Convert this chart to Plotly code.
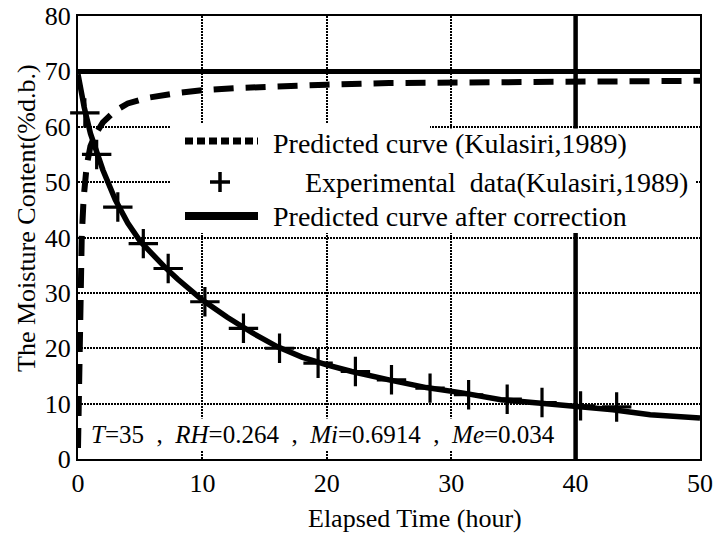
import plotly.graph_objects as go

SERIF = "Liberation Serif, Times New Roman, serif"

# Predicted curve of the original model (Kulasiri, 1989)
t_kulasiri = [0, 0.05, 0.1, 0.15, 0.2, 0.3, 0.45, 0.7, 1.0, 1.4, 2, 3, 4, 5.5,
              8, 10, 13, 16, 20, 25, 30, 35, 40, 45, 50]
m_kulasiri = [2, 10, 18, 26, 32, 40, 47, 53, 56.5, 58.6, 60.8, 62.9, 64.2, 65.2,
              66.1, 66.6, 67.0, 67.3, 67.6, 67.9, 68.0, 68.1, 68.2, 68.2, 68.3]

# Experimental drying data (Kulasiri, 1989)
t_exp = [0.55, 1.5, 3.2, 5.25, 7.25, 10.2, 13.3, 16.2, 19.3, 22.3, 25.2, 28.3,
         31.4, 34.5, 37.3, 40.4, 43.3]
m_exp = [62.5, 55.0, 45.5, 38.9, 34.4, 28.4, 23.6, 20.0, 17.3, 15.8, 14.3, 12.8,
         11.6, 10.8, 10.2, 9.6, 9.4]

# Predicted curve after correction
t_fit = [0, 0.25, 0.5, 1, 1.5, 2, 3, 4, 5, 6, 7, 8, 10, 12, 14, 16, 18, 20, 22,
         25, 28, 31, 34, 37, 40, 43, 46, 50]
m_fit = [69.5, 66.2, 63.5, 58.8, 55.2, 52.2, 46.8, 42.6, 39.3, 36.8, 34.6, 32.5,
         28.7, 25.6, 22.8, 20.3, 18.4, 17.0, 15.8, 14.3, 12.9, 11.9, 10.7, 10.1,
         9.5, 8.9, 8.0, 7.4]

# Drying conditions
cond_T, cond_RH, cond_Mi, cond_Me = "35", "0.264", "0.6914", "0.034"

x_range = [0, 50]
y_range = [0, 80]
x_ticks = [0, 10, 20, 30, 40, 50]
y_ticks = [0, 10, 20, 30, 40, 50, 60, 70, 80]
initial_mc = 70     # horizontal reference line
ref_time = 40       # vertical reference line

legend_labels = [
    "Predicted curve (Kulasiri,1989)",
    "Experimental\u00a0\u00a0data(Kulasiri,1989)",
    "Predicted curve after correction",
]

# plot-area geometry (pixels)
L, R, T, B = 78, 18, 16, 78
W, H = 718, 537
PW, PH = W - L - R, H - T - B


def px(xp):
    """pixel column -> paper fraction of the plot area"""
    return (xp - L) / PW


def py(yp):
    """pixel row -> paper fraction of the plot area"""
    return (H - B - yp) / PH


def dx(xp):
    """pixel column -> x data value"""
    return x_range[0] + px(xp) * (x_range[1] - x_range[0])


def dy(yp):
    """pixel row -> y data value"""
    return y_range[0] + py(yp) * (y_range[1] - y_range[0])


fig = go.Figure()

fig.add_trace(go.Scatter(
    x=t_kulasiri, y=m_kulasiri, mode="lines",
    line=dict(color="black", width=6, dash="20px,12px"),
    name=legend_labels[0],
))
fig.add_trace(go.Scatter(
    x=t_fit, y=m_fit, mode="lines",
    line=dict(color="black", width=5.5),
    name=legend_labels[2],
))
fig.add_trace(go.Scatter(
    x=t_exp, y=m_exp, mode="markers",
    marker=dict(symbol="cross-thin", size=21, color="black",
                line=dict(width=3.2, color="black")),
    name=legend_labels[1], cliponaxis=False,
))

shapes = [
    # thick reference lines (above the grid, below the data)
    dict(type="line", xref="x", yref="y", x0=x_range[0], x1=x_range[1],
         y0=initial_mc, y1=initial_mc,
         line=dict(color="black", width=5), layer="between"),
    dict(type="line", xref="x", yref="y", x0=ref_time, x1=ref_time,
         y0=y_range[0], y1=y_range[1],
         line=dict(color="black", width=4.5), layer="between"),
    # legend backdrop hiding the grid behind the key
    dict(type="path", xref="x", yref="y",
         path=(f"M{dx(170)},{dy(123)} L{dx(430)},{dy(123)} L{dx(430)},{dy(128.5)} "
               f"L{dx(695)},{dy(128.5)} L{dx(695)},{dy(233)} L{dx(170)},{dy(233)} Z"),
         fillcolor="white", line=dict(width=0), layer="between"),
    # legend symbols
    dict(type="line", xref="paper", yref="paper", x0=px(185), x1=px(258),
         y0=py(141), y1=py(141), line=dict(color="black", width=7, dash="8px,4px")),
    dict(type="line", xref="paper", yref="paper", x0=px(210), x1=px(230),
         y0=py(182), y1=py(182), line=dict(color="black", width=3.5)),
    dict(type="line", xref="paper", yref="paper", x0=px(220), x1=px(220),
         y0=py(172), y1=py(192), line=dict(color="black", width=3.5)),
    dict(type="line", xref="paper", yref="paper", x0=px(185), x1=px(258),
         y0=py(216), y1=py(216), line=dict(color="black", width=8)),
]

annotations = [
    dict(xref="paper", yref="paper", x=px(271), y=py(143), xanchor="left",
         yanchor="middle", text=legend_labels[0], showarrow=False,
         font=dict(size=28)),
    dict(xref="paper", yref="paper", x=px(303), y=py(182), xanchor="left",
         yanchor="middle", text=legend_labels[1], showarrow=False,
         font=dict(size=28)),
    dict(xref="paper", yref="paper", x=px(271), y=py(216.5), xanchor="left",
         yanchor="middle", text=legend_labels[2], showarrow=False,
         font=dict(size=28)),
    # drying conditions
    dict(xref="paper", yref="paper", x=px(88), y=py(434), xanchor="left",
         yanchor="middle", showarrow=False, bgcolor="white", borderpad=2,
         font=dict(size=25),
         text=(f"<i>T</i>={cond_T}\u00a0 ,\u00a0 <i>RH</i>={cond_RH}\u00a0 ,\u00a0 "
               f"<i>Mi</i>={cond_Mi}\u00a0 ,\u00a0 <i>Me</i>={cond_Me}")),
    # axis titles
    dict(xref="paper", yref="paper", x=px(415), y=py(518), xanchor="center",
         yanchor="middle", text="Elapsed Time (hour)", showarrow=False,
         font=dict(size=26)),
    dict(xref="paper", yref="paper", x=px(26), y=py(218), xanchor="center",
         yanchor="middle", text="The Moisture Content(%d.b.)", showarrow=False,
         textangle=-90, font=dict(size=26)),
]

fig.update_layout(
    width=W, height=H,
    margin=dict(l=L, r=R, t=T, b=B, pad=0, autoexpand=False),
    plot_bgcolor="white", paper_bgcolor="white",
    showlegend=False,
    font=dict(family=SERIF, size=26, color="black"),
    shapes=shapes, annotations=annotations,
)

axis_common = dict(
    showgrid=True, gridcolor="black", gridwidth=1.5, griddash="2px,1px",
    showline=True, linecolor="black", linewidth=2, mirror=True,
    ticks="", zeroline=False, automargin=False,
    tickfont=dict(size=26, family=SERIF),
)
fig.update_xaxes(range=x_range, tickvals=x_ticks, **axis_common)
fig.update_yaxes(range=y_range, tickvals=y_ticks, ticklabelstandoff=0, **axis_common)

fig.write_html("out.html")
